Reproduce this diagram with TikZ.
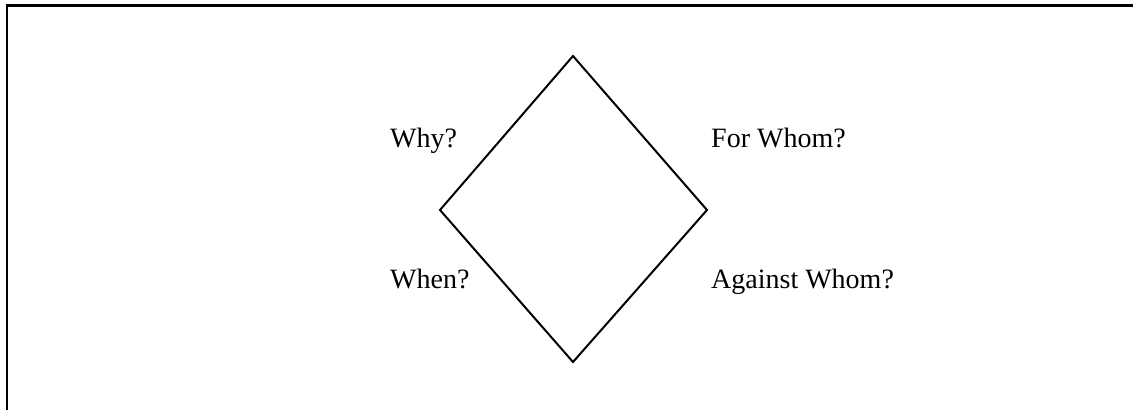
\documentclass[tikz,border=0pt]{standalone}
\usepackage{fontspec}
\setmainfont{Liberation Serif}
\begin{document}
\begin{tikzpicture}[x=1pt,y=-1pt,
  lbl/.style={anchor=base west,inner sep=0pt,font=\fontsize{28}{32}\selectfont},
  edge/.style={line width=2pt,line join=miter}]
\useasboundingbox (0,0) rectangle (1133,410);
\draw[line width=2.2pt] (7,410) -- (7,5.5) -- (1133,5.5);
\coordinate (t) at (573,56);
\coordinate (l) at (440,210);
\coordinate (r) at (707,210);
\coordinate (b) at (573,362);
\draw[edge] (t) -- (r) -- (b) -- (l) -- cycle;
\node[lbl] (why) at (390,147) {Why?};
\node[lbl] (forwhom) at (711,147) {For Whom?};
\node[lbl] (when) at (390,288) {When?};
\node[lbl] (against) at (711,288) {Against Whom?};
\end{tikzpicture}
\end{document}
